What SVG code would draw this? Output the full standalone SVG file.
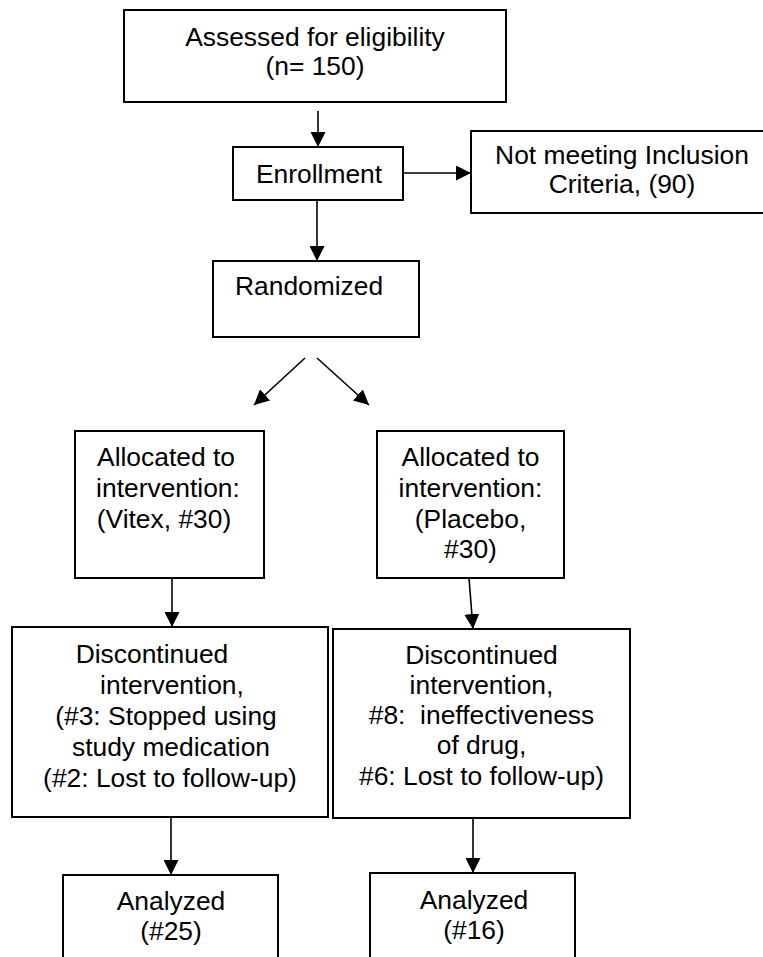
<svg xmlns="http://www.w3.org/2000/svg" width="763" height="957" viewBox="0 0 763 957">
<style>
  .box { fill: #ffffff; stroke: #000000; stroke-width: 2; }
  .t { font-family: "Liberation Sans", Arial, sans-serif; font-size: 26.4px; fill: #000000; text-anchor: middle; }
  .ts { text-anchor: start; }
  .ln { stroke: #000000; stroke-width: 1.6; fill: none; marker-end: url(#ah); }
</style>
<defs>
  <marker id="ah" markerUnits="userSpaceOnUse" markerWidth="15" markerHeight="15" refX="15" refY="7.5" orient="auto">
    <path d="M0,0 L15,7.5 L0,15 z" fill="#000000"/>
  </marker>
</defs>
<rect width="763" height="957" fill="#ffffff"/>

<g id="connectors">
  <line class="ln" x1="318" y1="111" x2="318" y2="147"/>
  <line class="ln" x1="403" y1="173" x2="471" y2="173"/>
  <line class="ln" x1="317" y1="200" x2="317" y2="261"/>
  <line class="ln" x1="305" y1="358" x2="254" y2="405"/>
  <line class="ln" x1="317" y1="358" x2="369" y2="405"/>
  <line class="ln" x1="172" y1="578" x2="172" y2="627"/>
  <line class="ln" x1="469" y1="578" x2="473" y2="629"/>
  <line class="ln" x1="171" y1="817" x2="171" y2="875"/>
  <line class="ln" x1="473" y1="818" x2="473" y2="873"/>
</g>

<g id="assessed">
  <rect class="box" x="124" y="10" width="382" height="92"/>
  <text class="t" x="315" y="46">Assessed for eligibility</text>
  <text class="t" x="315" y="75">(n= 150)</text>
</g>

<g id="enrollment">
  <rect class="box" x="233" y="147" width="170" height="53"/>
  <text class="t" x="319" y="183">Enrollment</text>
</g>

<g id="not-meeting">
  <rect class="box" x="471" y="131" width="302" height="82"/>
  <text class="t" x="622" y="164">Not meeting Inclusion</text>
  <text class="t" x="622" y="193">Criteria, (90)</text>
</g>

<g id="randomized">
  <rect class="box" x="213" y="261" width="206" height="76"/>
  <text class="t ts" x="235" y="295">Randomized</text>
</g>

<g id="allocated-vitex">
  <rect class="box" x="75" y="431" width="189" height="147"/>
  <text class="t" x="166" y="466">Allocated to</text>
  <text class="t" x="168" y="497">intervention:</text>
  <text class="t" x="164" y="528">(Vitex, #30)</text>
</g>

<g id="allocated-placebo">
  <rect class="box" x="377" y="431" width="187" height="147"/>
  <text class="t" x="470.5" y="466">Allocated to</text>
  <text class="t" x="470.5" y="497">intervention:</text>
  <text class="t" x="470.5" y="528">(Placebo,</text>
  <text class="t" x="470.5" y="558">#30)</text>
</g>

<g id="discontinued-vitex">
  <rect class="box" x="12" y="627" width="316" height="190"/>
  <text class="t" x="152" y="663">Discontinued</text>
  <text class="t" x="172" y="694">intervention,</text>
  <text class="t" x="166" y="725">(#3: Stopped using</text>
  <text class="t" x="171" y="756">study medication</text>
  <text class="t" x="170" y="787">(#2: Lost to follow-up)</text>
</g>

<g id="discontinued-placebo">
  <rect class="box" x="333" y="629" width="297" height="189"/>
  <text class="t" x="481.5" y="664">Discontinued</text>
  <text class="t" x="481.5" y="694">intervention,</text>
  <text class="t" x="481.5" y="724" xml:space="preserve">#8:  ineffectiveness</text>
  <text class="t" x="481.5" y="754">of drug,</text>
  <text class="t" x="481.5" y="785">#6: Lost to follow-up)</text>
</g>

<g id="analyzed-vitex">
  <rect class="box" x="63" y="875" width="215" height="100"/>
  <text class="t" x="171" y="910">Analyzed</text>
  <text class="t" x="171" y="940">(#25)</text>
</g>

<g id="analyzed-placebo">
  <rect class="box" x="370" y="873" width="205" height="100"/>
  <text class="t" x="474" y="909">Analyzed</text>
  <text class="t" x="474" y="939">(#16)</text>
</g>
</svg>
